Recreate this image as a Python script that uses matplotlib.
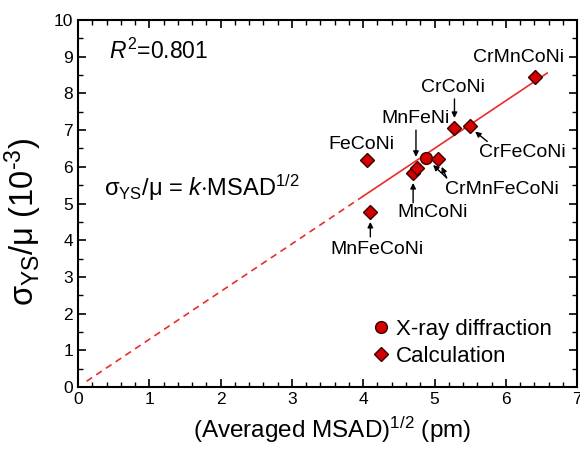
import matplotlib
matplotlib.use("Agg")
import matplotlib.pyplot as plt
import numpy as np
from matplotlib.ticker import MultipleLocator

plt.rcParams['font.family'] = ['Liberation Sans', 'DejaVu Sans']
plt.rcParams['mathtext.fontset'] = 'custom'
plt.rcParams['mathtext.rm'] = 'Liberation Sans'
plt.rcParams['mathtext.it'] = 'Liberation Sans:italic'

# Data
calc_names = ["CrMnCoNi", "CrCoNi", "CrFeCoNi", "FeCoNi", "CrMnFeCoNi",
              "MnCoNi", "MnFeNi", "MnFeCoNi"]
calc_x = [6.41, 5.28, 5.50, 4.05, 5.05, 4.70, 4.75, 4.10]
calc_y = [8.46, 7.07, 7.11, 6.19, 6.22, 5.84, 5.96, 4.78]
xray_x = [4.88]
xray_y = [6.23]
k_fit = 1.30
fit_solid_range = [4.0, 6.58]
fit_dash_range = [0.12, 4.0]
r2_text = "0.801"

fig = plt.figure(figsize=(5.8, 4.53), dpi=100)
ax = fig.add_axes([0.1345, 0.1457, 0.995 - 0.1345, 0.9558 - 0.1457])

red_line = '#ee2a2a'
fill = '#d40000'
edge = '#3a0000'

xs = np.array(fit_solid_range)
ax.plot(xs, k_fit * xs, color=red_line, lw=1.2, zorder=2)
xd = np.array(fit_dash_range)
ax.plot(xd, k_fit * xd, color=red_line, lw=1.2, ls=(0, (4, 3)), zorder=2)

ax.plot(calc_x, calc_y, ls='none', marker='D', ms=7, mfc=fill, mec=edge,
        mew=1.0, zorder=4, label='Calculation')
ax.plot(xray_x, xray_y, ls='none', marker='o', ms=8.5, mfc=fill, mec=edge,
        mew=1.0, zorder=3, label='X-ray diffraction')

fs = 14
arrow_kw = dict(arrowstyle='-|>', color='black', lw=1.0, mutation_scale=8,
                shrinkA=0, shrinkB=0)

def ann(text, tx, ty):
    ax.text(tx, ty, text, ha='center', va='center', fontsize=fs)

def arrow(x0, y0, x1, y1):
    ax.annotate('', xy=(x1, y1), xytext=(x0, y0), arrowprops=arrow_kw)

ann("CrMnCoNi", 6.18, 8.97)
ann("CrCoNi", 5.26, 8.15)
arrow(5.28, 7.85, 5.28, 7.33)
ann("MnFeNi", 4.73, 7.33)
arrow(4.74, 7.0, 4.74, 6.27)
ann("FeCoNi", 3.98, 6.6)
ann("CrFeCoNi", 6.23, 6.38)
arrow(5.74, 6.69, 5.57, 6.96)
ann("CrMnFeCoNi", 5.95, 5.37)
arrow(5.17, 5.70, 4.98, 6.05)
arrow(5.17, 5.70, 5.10, 6.0)
ann("MnCoNi", 4.97, 4.75)
arrow(4.70, 5.02, 4.70, 5.56)
ann("MnFeCoNi", 4.19, 3.74)
arrow(4.10, 4.09, 4.10, 4.50)

ax.text(0.43, 9.16, r"$R^2$=" + r2_text, fontsize=16.5, ha='left', va='center')
ax.text(0.36, 5.43, r"$\mathrm{\sigma_{YS}/\mu}$ = $k$$\cdot$MSAD$^{1/2}$",
        fontsize=17, ha='left', va='center')

ax.set_xlim(0, 7)
ax.set_ylim(0, 10)
ax.xaxis.set_major_locator(MultipleLocator(1))
ax.xaxis.set_minor_locator(MultipleLocator(0.2))
ax.yaxis.set_major_locator(MultipleLocator(1))
ax.yaxis.set_minor_locator(MultipleLocator(0.5))
ax.tick_params(which='both', direction='in', top=True, right=True, labelsize=12.5)
ax.tick_params(which='major', length=6, width=1.2)
ax.tick_params(which='minor', length=3.5, width=1.0)
for s in ax.spines.values():
    s.set_linewidth(1.5)

ax.set_xlabel(r"(Averaged MSAD)$^{1/2}$ (pm)", fontsize=17.5)
ax.xaxis.set_label_coords(0.51, -0.076)
ax.set_ylabel(r"$\mathrm{\sigma_{YS}/\mu}$ (10$^{\text{-}3}$)", fontsize=23.5)
ax.yaxis.set_label_coords(-0.068, 0.45)

h, l = ax.get_legend_handles_labels()
ax.legend([h[1], h[0]], [l[1], l[0]], loc='center left', frameon=False,
          fontsize=16, handletextpad=0.15, handlelength=1.0, labelspacing=0.25,
          borderpad=0, borderaxespad=0, bbox_to_anchor=(0.585, 0.12))

fig.savefig("out.png", dpi=100)
